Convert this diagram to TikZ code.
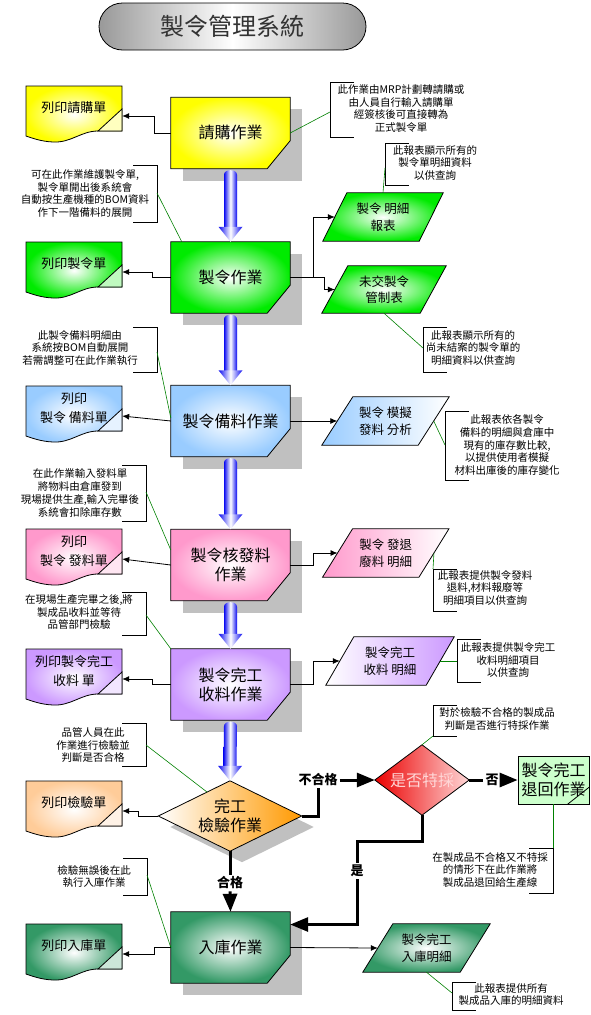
\documentclass[tikz,border=0pt]{standalone}
\usepackage{fontspec}
\setmainfont{Noto Sans CJK TC}
\usetikzlibrary{arrows.meta,backgrounds,calc}
\definecolor{cyel}{RGB}{255,255,0}
\definecolor{cgrn}{RGB}{0,235,0}
\definecolor{cblu}{RGB}{153,204,255}
\definecolor{cpnk}{RGB}{255,153,204}
\definecolor{cpur}{RGB}{204,153,255}
\definecolor{corg}{RGB}{255,153,0}
\definecolor{corl}{RGB}{255,204,153}
\definecolor{cdg}{RGB}{51,153,102}
\definecolor{clg}{RGB}{204,255,204}
\definecolor{cred}{RGB}{235,0,0}
\definecolor{cpinkl}{RGB}{255,215,215}
\definecolor{cshd}{RGB}{192,192,192}
\definecolor{carr}{RGB}{10,10,240}
\definecolor{cgl}{RGB}{0,128,0}
\tikzset{
  proc/.style={minimum width=119pt, minimum height=71pt, inner sep=0pt, align=center, font=\fontsize{16}{19}\selectfont},
  doctxt/.style={minimum width=96pt, minimum height=44pt, inner sep=0pt, align=center, font=\fontsize{13}{18.5}\selectfont},
  rep/.style={inner sep=0pt, align=center, font=\fontsize{12.5}{16.5}\selectfont},
  note/.style={align=center, inner sep=0pt, font=\fontsize{10.5}{12.7}\selectfont},
  lab/.style={inner sep=2pt, font=\bfseries\fontsize{13}{15}\selectfont},
  brk/.style={draw=black, line width=0.7pt},
  gline/.style={draw=cgl, line width=0.6pt},
  conn/.style={draw=black, line width=0.8pt, -{Latex[length=7pt,width=6pt]}},
  thk/.style={draw=black, line width=3pt},
  thka/.style={draw=black, line width=3pt, -{Triangle[length=18pt,width=14pt]}},
  arrshade/.style={shade, left color=carr, right color=carr, middle color=white},
  titlebox/.style={draw=black, line width=0.8pt, rounded corners=23.5pt, minimum width=267pt, minimum height=47pt,
     shade, left color=black!40, right color=black!40, middle color=white, text=black!80,
     font=\fontsize{24}{26}\selectfont},
}
\newcommand\procshape[2]{%
  \path[shade, inner color=white, outer color=#2, draw=black, line width=0.8pt]
    (#1.north west) -- (#1.north east) -- ([yshift=28pt]#1.south east) -- ([xshift=-23pt]#1.south east) -- (#1.south west) -- cycle;}
\newcommand\repshape[3]{%
  \path[draw=black, line width=0.8pt, shade, #3]
    ([xshift=#2]#1.north west) -- ([xshift=#2]#1.north east) -- ([xshift=-#2]#1.south east) -- ([xshift=-#2]#1.south west) -- cycle;}
\newcommand\docshape[2]{%
  \begin{scope}[shift={(26,#1)}]
    \path[shade, inner color=white, outer color=#2, draw=black, line width=0.8pt]
      (0,0) -- (96,0) -- (96,45) -- (72,45) .. controls (55,45) and (45,57) .. (27,56) .. controls (15,55.5) and (6,52) .. (0,50) -- cycle;
    \path[fill=#2!25!white, draw=black, line width=0.8pt] (96,23) -- (96,45) -- (72,45) -- cycle;
  \end{scope}}
\newcommand\bigarr[2]{%
  \path[arrshade]
    ([xshift=-6.5pt,yshift=14pt]#2.north) -- ([xshift=6.5pt,yshift=14pt]#2.north)
    -- ([xshift=6.5pt,yshift=-6pt]#1.south) .. controls ([xshift=6.5pt,yshift=0pt]#1.south) and ([xshift=-6.5pt,yshift=0pt]#1.south) .. ([xshift=-6.5pt,yshift=-6pt]#1.south) -- cycle;
  \path[arrshade]
    ([xshift=-12pt,yshift=15pt]#2.north) -- (#2.north) -- ([xshift=12pt,yshift=15pt]#2.north) -- cycle;}
\newcommand\lbr[3]{\draw[brk] ({#1+24},#2) -- (#1,#2) -- (#1,#3) -- ({#1+24},#3);}
\newcommand\rbr[3]{\draw[brk] ({#1-24},#2) -- (#1,#2) -- (#1,#3) -- ({#1-24},#3);}
\begin{document}
\begin{tikzpicture}[x=1pt,y=-1pt]
\useasboundingbox (0,0) rectangle (591,1015);

% title
\node[titlebox] (title) at (232.5,26.5) {製令管理系統};

% process boxes
\node[proc] (p1) at (230.5,133) {請購作業};
\node[proc] (p2) at (230.5,277.5) {製令作業};
\node[proc] (p3) at (230.5,421) {製令備料作業};
\node[proc] (p4) at (230.5,565) {製令核發料\\作業};
\node[proc] (p5) at (230.5,684.5) {製令完工\\收料作業};
\node[proc] (p6) at (230.5,947.5) {入庫作業};
\node[proc, minimum width=143pt, minimum height=70pt] (dm1) at (230,816) {完工\\檢驗作業};
\node[proc, minimum width=94pt, minimum height=70pt, text=cpinkl] (dm2) at (422,780) {是否特採};
\node[proc, draw=black, fill=clg, line width=0.8pt, minimum width=71pt, minimum height=48pt] (rb) at (553.5,780) {製令完工\\退回作業};
\draw[black, line width=0.8pt] ([yshift=-7pt]rb.east) -- ([xshift=-22pt]rb.south east);

% print documents
\node[doctxt] (d1) at (74,108) {列印請購單};
\node[doctxt] (d2) at (74,264) {列印製令單};
\node[doctxt] (d3) at (74,408) {列印\\製令 備料單};
\node[doctxt] (d4) at (74,551) {列印\\製令 發料單};
\node[doctxt] (d5) at (74,671) {列印製令完工\\收料 單};
\node[doctxt] (d6) at (74,803) {列印檢驗單};
\node[doctxt] (d7) at (74,946) {列印入庫單};

% reports
\node[rep, minimum width=96pt, minimum height=48pt] (r1) at (383,217) {製令 明細\\報表};
\node[rep, minimum width=98pt, minimum height=47pt] (r2) at (384,289.5) {未交製令\\管制表};
\node[rep, minimum width=96pt, minimum height=48pt] (r3) at (385.5,421) {製令 模擬\\發料 分析};
\node[rep, minimum width=96pt, minimum height=48pt] (r4) at (385.75,553) {製令 發退\\廢料 明細};
\node[rep, minimum width=100pt, minimum height=48pt] (r5) at (390,661) {製令完工\\收料 明細};
\node[rep, minimum width=97pt, minimum height=48pt] (r6) at (426.5,948) {製令完工\\入庫明細};

% notes
\node[note] (n1) at (401,108.5) {此作業由MRP計劃轉請購或\\由人員自行輸入請購單\\經簽核後可直接轉為\\正式製令單};
\node[note] (n2) at (85,193.5) {可在此作業維護製令單,\\製令單開出後系統會\\自動按生產機種的BOM資料\\作下一階備料的展開};
\node[note] (n3) at (435,163) {此報表顯示所有的\\製令單明細資料\\以供查詢};
\node[note] (n4) at (473,348) {此報表顯示所有的\\尚未結案的製令單的\\明細資料以供查詢};
\node[note] (n5) at (80,348) {此製令備料明細由\\系統按BOM自動展開\\若需調整可在此作業執行};
\node[note] (n6) at (507,445) {此報表依各製令\\備料的明細與倉庫中\\現有的庫存數比較,\\以提供使用者模擬\\材料出庫後的庫存變化};
\node[note] (n7) at (80,493) {在此作業輸入發料單\\將物料由倉庫發到\\現場提供生產,輸入完畢後\\系統會扣除庫存數};
\node[note] (n8) at (485,588) {此報表提供製令發料\\退料,材料報廢等\\明細項目以供查詢};
\node[note] (n9) at (79,612) {在現場生產完畢之後,將\\製成品收料並等待\\品管部門檢驗};
\node[note] (n10) at (508,660) {此報表提供製令完工\\收料明細項目\\以供查詢};
\node[note] (n11) at (93,745) {品管人員在此\\作業進行檢驗並\\判斷是否合格};
\node[note] (n12) at (497,719) {對於檢驗不合格的製成品\\判斷是否進行特採作業};
\node[note] (n13) at (490,870) {在製成品不合格又不特採\\的情形下在此作業將\\製成品退回給生產線};
\node[note] (n14) at (94,876.5) {檢驗無誤後在此\\執行入庫作業};
\node[note] (n15) at (511,994.5) {此報表提供所有\\製成品入庫的明細資料};

% brackets
\lbr{330}{82}{137}
\rbr{157}{165}{222}
\lbr{385}{143}{185}
\lbr{423}{327}{372}
\rbr{157}{327}{372}
\lbr{445}{411}{480}
\rbr{146}{465}{521}
\lbr{433}{569}{611}
\rbr{146}{592}{635}
\lbr{457}{639}{682}
\rbr{146}{723}{766}
\lbr{433}{705}{736}
\rbr{553}{848}{893}
\rbr{147}{858}{895}
\lbr{452}{982}{1010}
\coordinate (b1) at (330,112);
\coordinate (b2) at (157,193);
\coordinate (b3) at (385,168);
\coordinate (b4) at (423,348);
\coordinate (b5) at (157,352);
\coordinate (b6) at (445,445);
\coordinate (b7) at (146,492);
\coordinate (b8) at (433,569);
\coordinate (b9) at (146,615);
\coordinate (b10) at (457,661);
\coordinate (b11) at (146,745);
\coordinate (b12) at (433,736);
\coordinate (b13) at (553.5,848);
\coordinate (b14) at (147,875);
\coordinate (b15) at (452,993);

% labels
\node[lab] (ng) at (318,780) {不合格};
\node[lab] (no) at (492,780) {否};
\node[lab] (yes) at (357,871) {是};
\node[lab] (ok) at (230,883) {合格};

% shapes behind
\begin{pgfonlayer}{background}
  \foreach \n in {p1,p2,p3,p4,p5,p6} {\fill[cshd] ([shift={(12,12)}]\n.north west) rectangle ([shift={(12,12)}]\n.south east);}
  \fill[cshd] ([shift={(12,11)}]dm1.north) -- ([shift={(12,11)}]dm1.east) -- ([shift={(12,11)}]dm1.south) -- ([shift={(12,11)}]dm1.west) -- cycle;
  \procshape{p1}{cyel}
  \procshape{p2}{cgrn}
  \procshape{p3}{cblu}
  \procshape{p4}{cpnk}
  \procshape{p5}{cpur}
  \procshape{p6}{cdg}
  \path[shade, left color=white, right color=corg, draw=black, line width=0.8pt]
    (dm1.north) -- (dm1.east) -- (dm1.south) -- (dm1.west) -- cycle;
  \path[shade, left color=cred, right color=cpinkl, draw=black, line width=0.8pt]
    (dm2.north) -- (dm2.east) -- (dm2.south) -- (dm2.west) -- cycle;
  \docshape{86}{cyel}
  \docshape{242}{cgrn}
  \docshape{386}{cblu}
  \docshape{529}{cpnk}
  \docshape{649}{cpur}
  \docshape{781}{corl}
  \docshape{924}{cdg}
  \repshape{r1}{12pt}{inner color=white, outer color=cgrn}
  \repshape{r2}{13pt}{inner color=white, outer color=cgrn}
  \repshape{r3}{15.5pt}{left color=cblu, right color=white}
  \repshape{r4}{15pt}{left color=cpnk, right color=white}
  \repshape{r5}{14pt}{left color=white, right color=cpur}
  \repshape{r6}{15pt}{inner color=white, outer color=cdg}
\end{pgfonlayer}

% big flow arrows
\bigarr{p1}{p2}
\bigarr{p2}{p3}
\bigarr{p3}{p4}
\bigarr{p4}{p5}
\bigarr{p5}{dm1}

% print connectors
\draw[conn] (p1.west) -- ++(-16,0) |- ([yshift=-8pt]d1.east);
\draw[conn] (p2.west) -- ++(-18,0) |- ([yshift=-8pt]d2.east);
\draw[conn] (p3.west) -- ([yshift=-8pt]d3.east);
\draw[conn] (p4.west) -- ([yshift=-8pt]d4.east);
\draw[conn] (p5.west) -- ++(-18,0) |- ([yshift=-8pt]d5.east);
\draw[conn] (dm1.west) -- ++(-20,0) |- ([yshift=-8pt]d6.east);
\draw[conn] (p6.west) -- ++(-16,0) |- ([yshift=-8pt]d7.east);

% report connectors
\draw[conn] (p2.east) -- ++(23,0) |- (r1.west);
\draw[conn] (p2.east) -| ([xshift=-10pt]r2.west) -- (r2.west);
\draw[conn] (p3.east) -- (r3.west);
\draw[conn] (p4.east) -- ++(23,0) |- (r4.west);
\draw[conn] (p5.east) -- ++(23,0) |- (r5.west);
\draw[conn] (p6.east) -- (r6.west);

% note lines
\draw[gline] (p1.east) -- (b1);
\draw[gline] (b2) -- ([xshift=11pt]p2.north west);
\draw[gline] (b3) -- (r1.north);
\draw[gline] (r2.south) -- (b4);
\draw[gline] (b5) -- ([yshift=3pt]p3.west);
\draw[gline] (r3.east) -- (b6);
\draw[gline] (b7) -- ([yshift=15pt]p4.west);
\draw[gline] (r4.east) -- (b8);
\draw[gline] (b9) -- (p5.north west);
\draw[gline] (r5.east) -- (b10);
\draw[gline] (b11) -- ($(dm1.north)!0.32!(dm1.west)$);
\draw[gline] (b12) -- (dm2.north);
\draw[gline] (rb.south) -- (b13);
\draw[gline] (b14) -- (p6.west);
\draw[gline] (r6.south) -- (b15);

% decision connectors
\draw[thk] (dm1.east) -| (ng.south);
\draw[thka] (ng.east) -- (dm2.west);
\draw[thk] (dm2.east) -- (no.west);
\draw[thka] (no.east) -- (rb.west);
\draw[thk] (dm2.south) -- ++(0,26) -| (yes.north);
\draw[thka] (yes.south) |- ([yshift=23pt]p6.east);
\draw[thk] (dm1.south) -- (ok.north);
\draw[thka] (ok.south) -- (p6.north);
\end{tikzpicture}
\end{document}
